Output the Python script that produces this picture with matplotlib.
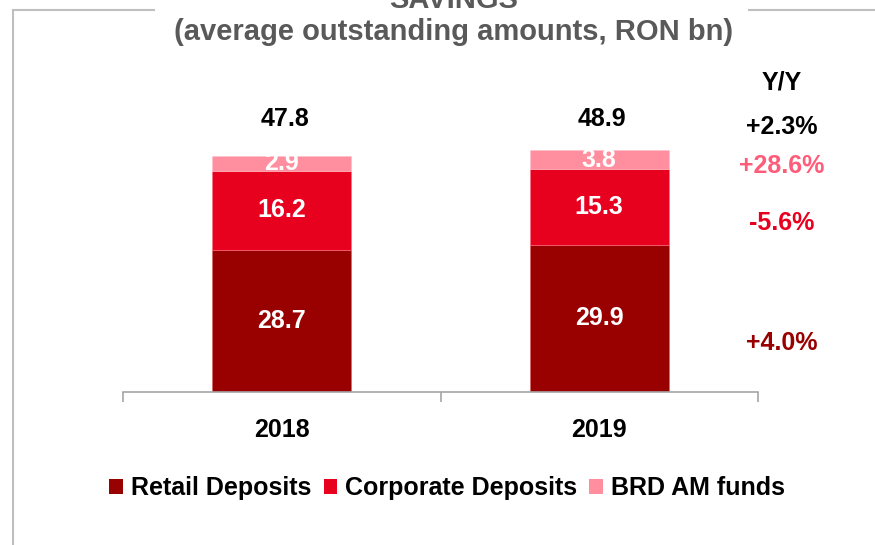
import matplotlib
matplotlib.use('Agg')
import matplotlib.pyplot as plt
from matplotlib.lines import Line2D
from matplotlib.patches import Patch

plt.rcParams['font.family'] = ['Liberation Sans', 'DejaVu Sans']
plt.rcParams['font.weight'] = 'bold'

years = ['2018', '2019']
retail = [28.7, 29.9]
corporate = [16.2, 15.3]
brd_am = [2.9, 3.8]
totals = [47.8, 48.9]
series_names = ['Retail Deposits', 'Corporate Deposits', 'BRD AM funds']
yoy_labels = ['+2.3%', '+28.6%', '-5.6%', '+4.0%']

c_retail = '#990000'
c_corp = '#E8001F'
c_brd = '#FF8F9F'
c_brd_txt = '#FF5C7A'

W, H = 875, 545
fig = plt.figure(figsize=(W / 100, H / 100), dpi=100)

def fx(px):
    return px / W

def fy(py):
    return 1 - py / H

ax = fig.add_axes([fx(123), fy(392), fx(758) - fx(123), (392 - 100) / H])

x = list(range(len(years)))
bw = 0.437
ax.bar(x, retail, bw, color=c_retail, edgecolor='#e06060', linewidth=0.4)
ax.bar(x, corporate, bw, bottom=retail, color=c_corp, edgecolor='#ff7080', linewidth=0.4)
bott = [r + c for r, c in zip(retail, corporate)]
ax.bar(x, brd_am, bw, bottom=bott, color=c_brd, edgecolor='#ffc0c8', linewidth=0.4)

for i in x:
    ax.text(i, retail[i] / 2, f'{retail[i]:.1f}', ha='center', va='center',
            color='white', fontsize=18, fontweight='bold')
    ax.text(i, retail[i] + corporate[i] / 2, f'{corporate[i]:.1f}', ha='center',
            va='center', color='white', fontsize=18, fontweight='bold')
    ax.text(i, bott[i] + brd_am[i] / 2, f'{brd_am[i]:.1f}', ha='center',
            va='center', color='white', fontsize=18, fontweight='bold')
    ax.text(i + 0.01, 55.4, f'{totals[i]:.1f}', ha='center', va='center',
            color='black', fontsize=18, fontweight='bold')

ax.set_xlim(-0.5, 1.5)
ax.set_ylim(0, 59.2)
for s in ['top', 'right', 'left']:
    ax.spines[s].set_visible(False)
ax.spines['bottom'].set_color('#a6a6a6')
ax.spines['bottom'].set_linewidth(1.2)
ax.set_yticks([])
ax.set_xticks(x)
ax.set_xticklabels(years, fontsize=18, fontweight='bold')
ax.tick_params(axis='x', which='major', length=0, pad=19)
ax.set_xticks([-0.5, 0.5, 1.5], minor=True)
ax.tick_params(axis='x', which='minor', length=7, color='#a6a6a6', width=1.2)

# Y/Y column
fig.text(fx(782), fy(82), 'Y/Y', ha='center', va='center', fontsize=18, fontweight='bold', color='black')
yoy_y = [127, 166, 223, 343]
yoy_c = ['black', c_brd_txt, c_corp, c_retail]
for lab, yy, cc in zip(yoy_labels, yoy_y, yoy_c):
    fig.text(fx(782), fy(yy), lab, ha='center', va='center', fontsize=18,
             fontweight='bold', color=cc)

# frame lines
fig.add_artist(Line2D([fx(13), fx(13)], [fy(10), 0], color='#bfbfbf', lw=1.5))
fig.add_artist(Line2D([fx(13), fx(154)], [fy(10), fy(10)], color='#bfbfbf', lw=1.5))
fig.add_artist(Line2D([fx(749), 1], [fy(10), fy(10)], color='#bfbfbf', lw=1.5))

fig.text(fx(454), fy(0), 'SAVINGS', ha='center', va='center', fontsize=21,
         fontweight='bold', color='#595959')
fig.text(fx(454), fy(32), '(average outstanding amounts, RON bn)', ha='center',
         va='center', fontsize=21, fontweight='bold', color='#595959')

handles = [Patch(facecolor=c, edgecolor='none') for c in [c_retail, c_corp, c_brd]]
fig.legend(handles, series_names, loc='center', bbox_to_anchor=(fx(447), fy(488)),
           ncol=3, frameon=False, prop={'size': 18, 'weight': 'bold'},
           handlelength=0.55, handleheight=0.55, handletextpad=0.3, columnspacing=0.5)

fig.savefig('out.png', dpi=100)
